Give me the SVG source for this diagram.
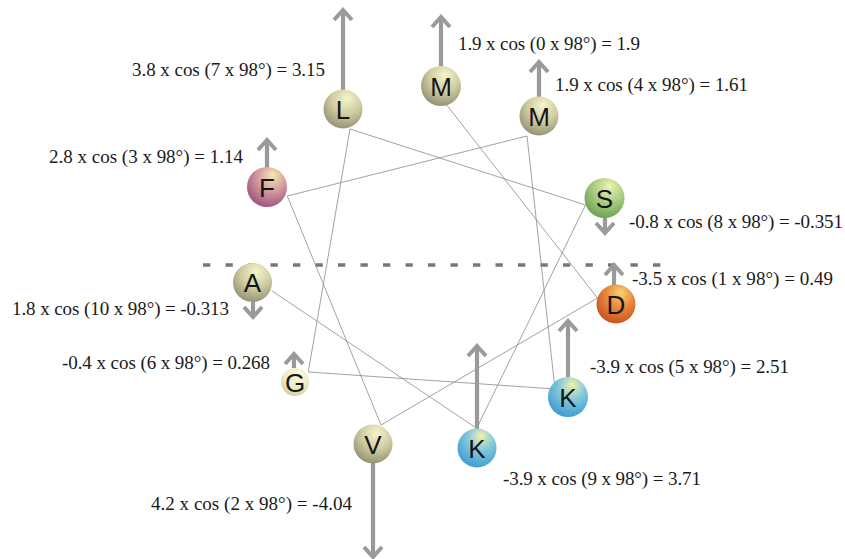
<svg xmlns="http://www.w3.org/2000/svg" width="845" height="559" viewBox="0 0 845 559">
<style>
.lbl{font-family:"Liberation Serif","Times New Roman",serif;font-size:19px;fill:#1a1a1a}
.aa{font-family:"Liberation Sans",Arial,sans-serif;font-size:26px;fill:#151515;text-anchor:middle}
.con{stroke:#8a8a8a;stroke-width:0.8;fill:none}
.arr{stroke:#9a9a9a;stroke-width:4.2;fill:none;marker-end:url(#hd)}
</style>
<defs>
<marker id="hd" viewBox="-14 -12 20 24" refX="0" refY="0" markerWidth="20" markerHeight="24" markerUnits="userSpaceOnUse" orient="auto">
<path d="M-10,-9 L0,0 L-10,9" stroke="#9a9a9a" stroke-width="4" fill="none"/>
</marker>
<radialGradient id="gOl" cx="0.58" cy="0.3" r="0.75" fx="0.6" fy="0.22">
<stop offset="0" stop-color="#f6f4cc"/><stop offset="0.5" stop-color="#d0cda2"/><stop offset="1" stop-color="#8e8d70"/>
</radialGradient>
<radialGradient id="gPk" cx="0.6" cy="0.3" r="0.75" fx="0.65" fy="0.2">
<stop offset="0" stop-color="#f4e8b2"/><stop offset="0.45" stop-color="#d6a0a0"/><stop offset="1" stop-color="#9e4c80"/>
</radialGradient>
<radialGradient id="gGr" cx="0.6" cy="0.3" r="0.75" fx="0.62" fy="0.2">
<stop offset="0" stop-color="#f0f2b4"/><stop offset="0.5" stop-color="#a9cd82"/><stop offset="1" stop-color="#68a050"/>
</radialGradient>
<radialGradient id="gOr" cx="0.6" cy="0.3" r="0.75" fx="0.62" fy="0.2">
<stop offset="0" stop-color="#f6d474"/><stop offset="0.45" stop-color="#e98c40"/><stop offset="1" stop-color="#c84e1a"/>
</radialGradient>
<radialGradient id="gBl" cx="0.6" cy="0.3" r="0.75" fx="0.6" fy="0.18">
<stop offset="0" stop-color="#f4f2aa"/><stop offset="0.45" stop-color="#82c8dc"/><stop offset="1" stop-color="#3a9ad2"/>
</radialGradient>
<radialGradient id="gCr" cx="0.58" cy="0.3" r="0.75" fx="0.6" fy="0.22">
<stop offset="0" stop-color="#fbfae2"/><stop offset="0.6" stop-color="#eeeac4"/><stop offset="1" stop-color="#cfcc9e"/>
</radialGradient>
</defs>
<rect width="845" height="559" fill="#ffffff"/>
<line x1="203" y1="265" x2="661" y2="265" stroke="#777" stroke-width="3.6" stroke-dasharray="7.3 15.2"/>
<g id="connectors">
<polyline class="con" points="446.7,105 597.5,298 381,425 287.3,196 527,136 555,389 308.3,372 350,129 585.5,205 476.7,428.3 271.7,290.7"/>
</g>
<g id="arrows">
<line class="arr" x1="343" y1="90" x2="343" y2="10"/>
<line class="arr" x1="441" y1="67" x2="441" y2="17"/>
<line class="arr" x1="539" y1="97" x2="539" y2="62"/>
<line class="arr" x1="267" y1="168" x2="267" y2="140"/>
<line class="arr" x1="605" y1="217" x2="605" y2="233"/>
<line class="arr" x1="614" y1="285" x2="614" y2="265"/>
<line class="arr" x1="253" y1="302" x2="253" y2="317"/>
<line class="arr" x1="294" y1="368" x2="294" y2="354"/>
<line class="arr" x1="568" y1="377" x2="568" y2="321"/>
<line class="arr" x1="477" y1="429" x2="477" y2="346"/>
<line class="arr" x1="373" y1="463" x2="373" y2="557"/>
</g>
<g id="node-M0"><circle cx="441" cy="86" r="20" fill="url(#gOl)"/><text class="aa" x="441" y="95.5">M</text></g>
<g id="node-D1"><circle cx="616" cy="304" r="19.5" fill="url(#gOr)"/><text class="aa" x="616" y="313.5">D</text></g>
<g id="node-V2"><circle cx="373" cy="444" r="19.5" fill="url(#gOl)"/><text class="aa" x="373" y="453.5">V</text></g>
<g id="node-F3"><circle cx="267" cy="187" r="20" fill="url(#gPk)"/><text class="aa" x="267" y="196.5">F</text></g>
<g id="node-M4"><circle cx="539" cy="116" r="19.5" fill="url(#gOl)"/><text class="aa" x="539" y="125.5">M</text></g>
<g id="node-K5"><circle cx="568" cy="397" r="20" fill="url(#gBl)"/><text class="aa" x="568" y="406.5">K</text></g>
<g id="node-G6"><circle cx="295" cy="382" r="14" fill="url(#gCr)"/><text class="aa" x="295" y="391.5">G</text></g>
<g id="node-L7"><circle cx="343" cy="109" r="19.5" fill="url(#gOl)"/><text class="aa" x="343" y="118.5">L</text></g>
<g id="node-S8"><circle cx="604.5" cy="198" r="20" fill="url(#gGr)"/><text class="aa" x="604.5" y="207.5">S</text></g>
<g id="node-K9"><circle cx="477" cy="448" r="19.5" fill="url(#gBl)"/><text class="aa" x="477" y="457.5">K</text></g>
<g id="node-A10"><circle cx="252.5" cy="282.5" r="19.5" fill="url(#gOl)"/><text class="aa" x="252.5" y="292">A</text></g>
<g id="labels">
<text class="lbl" x="132" y="76" textLength="193" lengthAdjust="spacing">3.8 x cos (7 x 98°) = 3.15</text>
<text class="lbl" x="458" y="50" textLength="182" lengthAdjust="spacing">1.9 x cos (0 x 98°) = 1.9</text>
<text class="lbl" x="555" y="91" textLength="193" lengthAdjust="spacing">1.9 x cos (4 x 98°) = 1.61</text>
<text class="lbl" x="49" y="163" textLength="194" lengthAdjust="spacing">2.8 x cos (3 x 98°) = 1.14</text>
<text class="lbl" x="12" y="315" textLength="217" lengthAdjust="spacing">1.8 x cos (10 x 98°) = -0.313</text>
<text class="lbl" x="629" y="228" textLength="214" lengthAdjust="spacing">-0.8 x cos (8 x 98°) = -0.351</text>
<text class="lbl" x="632" y="285" textLength="201" lengthAdjust="spacing">-3.5 x cos (1 x 98°) = 0.49</text>
<text class="lbl" x="62" y="369" textLength="208" lengthAdjust="spacing">-0.4 x cos (6 x 98°) = 0.268</text>
<text class="lbl" x="151" y="510" textLength="201" lengthAdjust="spacing">4.2 x cos (2 x 98°) = -4.04</text>
<text class="lbl" x="590" y="373" textLength="199" lengthAdjust="spacing">-3.9 x cos (5 x 98°) = 2.51</text>
<text class="lbl" x="503" y="485" textLength="198" lengthAdjust="spacing">-3.9 x cos (9 x 98°) = 3.71</text>
</g>
</svg>
